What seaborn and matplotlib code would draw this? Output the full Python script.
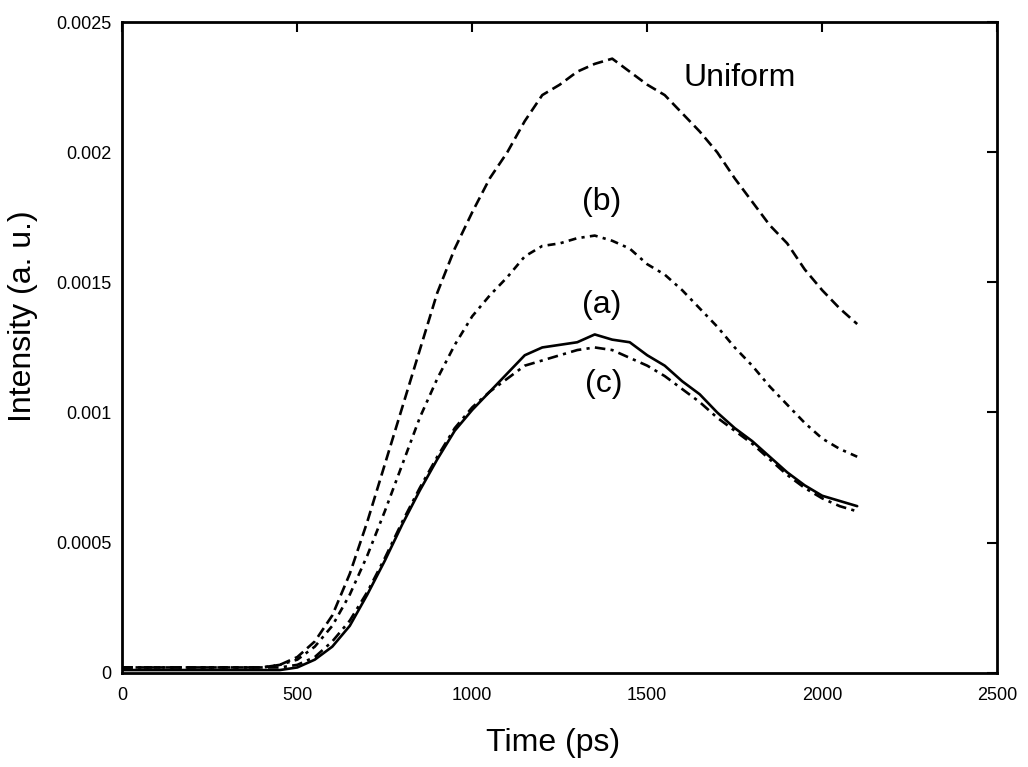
import pandas as pd
import matplotlib.pyplot as plt
import seaborn as sns
from matplotlib.ticker import FuncFormatter

# time axis (ps) and intensity curves
time_ps = [0, 100, 200, 300, 400, 450, 500, 550, 600, 650, 700, 750, 800, 850,
           900, 950, 1000, 1050, 1100, 1150, 1200, 1250, 1300, 1350, 1400,
           1450, 1500, 1550, 1600, 1650, 1700, 1750, 1800, 1850, 1900, 1950,
           2000, 2050, 2100]

uniform = [0.00002, 0.00002, 0.00002, 0.00002, 0.00002, 0.00003, 0.00006,
           0.00012, 0.00022, 0.00038, 0.00058, 0.0008, 0.00102, 0.00124,
           0.00146, 0.00163, 0.00177, 0.0019, 0.002, 0.00212, 0.00222,
           0.00226, 0.00231, 0.00234, 0.00236, 0.00231, 0.00226, 0.00222,
           0.00215, 0.00208, 0.002, 0.0019, 0.00181, 0.00172, 0.00165,
           0.00155, 0.00147, 0.0014, 0.00134]

curve_b = [0.00002, 0.00002, 0.00002, 0.00002, 0.00002, 0.00003, 0.00005,
           0.0001, 0.00018, 0.0003, 0.00045, 0.00062, 0.0008, 0.00098,
           0.00113, 0.00126, 0.00137, 0.00145, 0.00152, 0.0016, 0.00164,
           0.00165, 0.00167, 0.00168, 0.00166, 0.00163, 0.00157, 0.00153,
           0.00147, 0.0014, 0.00133, 0.00125, 0.00118, 0.0011, 0.00103,
           0.00096, 0.0009, 0.00086, 0.00083]

curve_a = [0.00001, 0.00001, 0.00001, 0.00001, 0.00001, 0.00001, 0.00002,
           0.00005, 0.0001, 0.00018, 0.0003, 0.00043, 0.00057, 0.0007,
           0.00082, 0.00093, 0.00101, 0.00108, 0.00115, 0.00122, 0.00125,
           0.00126, 0.00127, 0.0013, 0.00128, 0.00127, 0.00122, 0.00118,
           0.00112, 0.00107, 0.001, 0.00094, 0.00089, 0.00083, 0.00077,
           0.00072, 0.00068, 0.00066, 0.00064]

curve_c = [0.00002, 0.00002, 0.00002, 0.00002, 0.00002, 0.00002, 0.00003,
           0.00006, 0.00012, 0.0002, 0.00031, 0.00044, 0.00058, 0.00071,
           0.00083, 0.00094, 0.00102, 0.00108, 0.00113, 0.00118, 0.0012,
           0.00122, 0.00124, 0.00125, 0.00124, 0.00121, 0.00118, 0.00114,
           0.00109, 0.00104, 0.00098, 0.00093, 0.00088, 0.00082, 0.00076,
           0.00071, 0.00067, 0.00064, 0.00062]

x_ticks = [0, 500, 1000, 1500, 2000, 2500]
y_ticks = [0, 0.0005, 0.001, 0.0015, 0.002, 0.0025]

df = pd.DataFrame({'time': time_ps, 'Uniform': uniform, '(b)': curve_b,
                   '(a)': curve_a, '(c)': curve_c})

sns.set_style('white')
plt.rcParams['font.family'] = ['Liberation Sans', 'DejaVu Sans']
plt.rcParams['text.color'] = 'black'
plt.rcParams['axes.labelcolor'] = 'black'

fig, ax = plt.subplots(figsize=(10.28, 7.67), dpi=100)
fig.subplots_adjust(left=0.119, right=0.970, top=0.971, bottom=0.123)

styles = {
    'Uniform': (0, (4, 2)),
    '(b)': (0, (3, 2, 1.2, 2)),
    '(a)': '-',
    '(c)': (0, (4, 2, 1.2, 2)),
}
for name, ls in styles.items():
    sns.lineplot(data=df, x='time', y=name, ax=ax, color='black',
                 linestyle=ls, linewidth=1.9)

ax.set_xlim(0, 2500)
ax.set_ylim(0, 0.0025)
ax.set_xticks(x_ticks)
ax.set_yticks(y_ticks)
ax.yaxis.set_major_formatter(FuncFormatter(lambda v, p: '{:g}'.format(v)))
ax.tick_params(direction='in', length=7, width=1.5, top=True, right=True,
               labelsize=13, colors='black')
ax.tick_params(axis='x', pad=10)
ax.tick_params(axis='y', pad=8)
for sp in ax.spines.values():
    sp.set_linewidth(2)
    sp.set_color('black')

ax.set_xlabel('Time (ps)', fontsize=23, color='black')
ax.set_ylabel('Intensity (a. u.)', fontsize=23, color='black')
ax.xaxis.set_label_coords(0.4926, -0.0845)
ax.yaxis.set_label_coords(-0.096, 0.548)

ax.text(1603, 0.002285, 'Uniform', fontsize=23, ha='left', va='center', color='black')
ax.text(1371, 0.001809, '(b)', fontsize=23, ha='center', va='center', color='black')
ax.text(1371, 0.001413, '(a)', fontsize=23, ha='center', va='center', color='black')
ax.text(1377, 0.00111, '(c)', fontsize=23, ha='center', va='center', color='black')

plt.savefig('out.png', dpi=100)
